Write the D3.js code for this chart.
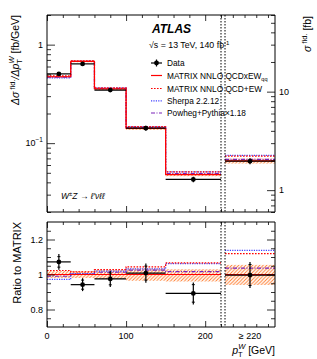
<!DOCTYPE html>
<html>
<head>
<meta charset="utf-8">
<script src="https://d3js.org/d3.v7.min.js"></script>
<style>
  body { margin: 0; background: #fff; }
  text { font-family: "Liberation Sans", Arial, sans-serif; fill: #000; }
  .frame { fill: none; stroke: #000; stroke-width: 1; }
  .axis path { display: none; }
  .axis line { stroke: #000; stroke-width: 0.8; }
</style>
</head>
<body>
<svg width="317" height="359"></svg>
<script>
// pT^W bins [GeV]; the 6th entry of every array is the >=220 GeV bin (in fb)
var binEdges = [0, 30, 60, 100, 150, 220];
var overflowLabel = "\u2265 220";

// upper panel: dsigma/dpT [fb/GeV], last value sigma [fb]
var dataTop    = [0.505, 0.638, 0.346, 0.142, 0.0428, 1.97];
var dataTopErr = [0.022, 0.024, 0.016, 0.008, 0.0027, 0.14];
var matrixTop  = [0.472, 0.675, 0.355, 0.141, 0.048, 1.98];
var qcdEwTop   = [0.483, 0.685, 0.365, 0.147, 0.051, 2.22];
var sherpaTop  = [0.459, 0.678, 0.362, 0.146, 0.051, 2.25];
var powhegTop  = [0.467, 0.677, 0.360, 0.145, 0.049, 2.05];

// lower panel: ratio to MATRIX NNLO QCDxEW
var dataRatio     = [1.072, 0.942, 0.975, 1.008, 0.892, 0.997];
var dataRatioErr  = [0.045, 0.037, 0.047, 0.055, 0.063, 0.074];
var dataRatioStat = [0.030, 0.026, 0.034, 0.040, 0.050, 0.060];
var matrixRatio   = [1, 1, 1, 1, 1, 1];
var qcdEwRatio    = [1.023, 1.015, 1.028, 1.044, 1.066, 1.119];
var sherpaRatio   = [0.972, 1.005, 1.019, 1.032, 1.062, 1.138];
var powhegRatio   = [0.990, 1.003, 1.013, 1.025, 1.017, 1.036];
var bandUp        = [0.020, 0.020, 0.025, 0.035, 0.030, 0.055];
var bandDown      = [0.020, 0.020, 0.025, 0.035, 0.040, 0.060];

var svg = d3.select("svg");

var L = 47, R = 275, mainR = 221, ovL = 225;
var topY0 = 15, topY1 = 212, botY0 = 222, botY1 = 327;

var x = d3.scaleLinear().domain([0, 220]).range([L, mainR]);
var xo = d3.scaleLinear().domain([220, 284]).range([ovL, R]);
var yTop = d3.scaleLog().domain([0.02, 2]).range([topY1, topY0]);
var yTopR = d3.scaleLog().domain([0.6, 60]).range([topY1, topY0]);
var yRat = d3.scaleLinear().domain([0.7, 1.3]).range([botY1, botY0]);

// hatch for MATRIX uncertainty
var defs = svg.append("defs");
defs.append("pattern").attr("id", "hatch")
    .attr("patternUnits", "userSpaceOnUse").attr("width", 3.5).attr("height", 3.5)
  .append("path").attr("d", "M-1,1 l2,-2 M0,3.5 l3.5,-3.5 M2.5,4.5 l2,-2")
    .attr("stroke", "#ff7a2a").attr("stroke-width", 0.9);
defs.append("clipPath").attr("id", "clipTop").append("rect")
    .attr("x", L).attr("y", topY0).attr("width", R - L).attr("height", topY1 - topY0);
defs.append("clipPath").attr("id", "clipBot").append("rect")
    .attr("x", L).attr("y", botY0).attr("width", R - L).attr("height", botY1 - botY0);

var styles = [
  { vals: "matrix", color: "#ff0000", dash: null, w: 1.2 },
  { vals: "qcdEw", color: "#ff0000", dash: "1.6,1.4", w: 1.2 },
  { vals: "sherpa", color: "#4040ff", dash: "1.2,1.2", w: 1.2 },
  { vals: "powheg", color: "#7a22b8", dash: "4,1.5,1,1.5", w: 1.2 }
];
var topSeries = { matrix: matrixTop, qcdEw: qcdEwTop, sherpa: sherpaTop, powheg: powhegTop };
var ratSeries = { matrix: matrixRatio, qcdEw: qcdEwRatio, sherpa: sherpaRatio, powheg: powhegRatio };

function stepPts(vals) {
  var pts = [];
  for (var i = 0; i < 5; i++) pts.push([binEdges[i], vals[i]]);
  pts.push([binEdges[5], vals[4]]);
  return pts;
}

function drawPanel(g, ys, ysOver, series, lo, hi) {
  // band around MATRIX
  var bandPts = stepPts(series.matrix).map(function (p, i) {
    var k = Math.min(i, 4);
    return { x: p[0], lo: lo(k), hi: hi(k) };
  });
  g.append("path")
    .attr("d", d3.area().curve(d3.curveStepAfter)
      .x(function (d) { return x(d.x); })
      .y0(function (d) { return ys(d.lo); })
      .y1(function (d) { return ys(d.hi); })(bandPts))
    .attr("fill", "url(#hatch)");
  g.append("rect")
    .attr("x", xo(220)).attr("width", xo(284) - xo(220))
    .attr("y", ysOver(hi(5))).attr("height", ysOver(lo(5)) - ysOver(hi(5)))
    .attr("fill", "url(#hatch)");

  styles.slice().reverse().forEach(function (s) {
    var vals = series[s.vals];
    g.append("path")
      .attr("d", d3.line().curve(d3.curveStepAfter)
        .x(function (d) { return x(d[0]); })
        .y(function (d) { return ys(d[1]); })(stepPts(vals)))
      .attr("fill", "none").attr("stroke", s.color)
      .attr("stroke-width", s.w).attr("stroke-dasharray", s.dash);
    g.append("line")
      .attr("x1", xo(220)).attr("x2", xo(284))
      .attr("y1", ysOver(vals[5])).attr("y2", ysOver(vals[5]))
      .attr("stroke", s.color).attr("stroke-width", s.w).attr("stroke-dasharray", s.dash);
  });
}

function drawData(g, ys, ysOver, vals, err, stat) {
  for (var i = 0; i < 6; i++) {
    var x0, x1;
    var sc = i < 5 ? ys : ysOver;
    if (i < 5) { x0 = x(binEdges[i]); x1 = x(binEdges[i + 1]); }
    else { x0 = xo(220); x1 = xo(284); }
    var cx = (x0 + x1) / 2;
    g.append("line").attr("x1", x0).attr("x2", x1)
      .attr("y1", sc(vals[i])).attr("y2", sc(vals[i]))
      .attr("stroke", "#000").attr("stroke-width", 1.2);
    g.append("line").attr("x1", cx).attr("x2", cx)
      .attr("y1", sc(vals[i] - err[i])).attr("y2", sc(vals[i] + err[i]))
      .attr("stroke", "#000").attr("stroke-width", 1.2);
    if (stat) {
      [vals[i] - stat[i], vals[i] + stat[i]].forEach(function (v) {
        g.append("line").attr("x1", cx - 1.5).attr("x2", cx + 1.5)
          .attr("y1", sc(v)).attr("y2", sc(v))
          .attr("stroke", "#000").attr("stroke-width", 1);
      });
    }
    g.append("circle").attr("cx", cx).attr("cy", sc(vals[i])).attr("r", 2.4).attr("fill", "#000");
  }
}

// ---- upper panel
var gTop = svg.append("g").attr("clip-path", "url(#clipTop)");
drawPanel(gTop, yTop, yTopR, topSeries,
  function (k) { return (k < 5 ? matrixTop[k] : matrixTop[5]) * (1 - bandDown[k]); },
  function (k) { return (k < 5 ? matrixTop[k] : matrixTop[5]) * (1 + bandUp[k]); });
drawData(gTop, yTop, yTopR, dataTop, dataTopErr, null);

// ---- ratio panel
var gBot = svg.append("g").attr("clip-path", "url(#clipBot)");
drawPanel(gBot, yRat, yRat, ratSeries,
  function (k) { return 1 - bandDown[k]; },
  function (k) { return 1 + bandUp[k]; });
drawData(gBot, yRat, yRat, dataRatio, dataRatioErr, dataRatioStat);

// ---- axes / ticks
function ticks(axis, tr, vals, size) {
  svg.append("g").attr("class", "axis").attr("transform", tr)
    .call(axis.tickValues(vals).tickSize(size).tickFormat(""));
}
var xMajor = [0, 100, 200];
var xMinor = d3.range(0, 221, 20).filter(function (v) { return v % 100 !== 0; });
var xoMinor = [230, 245, 260, 275];
[[topY0, d3.axisBottom], [topY1, d3.axisTop], [botY0, d3.axisBottom], [botY1, d3.axisTop]].forEach(function (a) {
  ticks(a[1](x), "translate(0," + a[0] + ")", xMajor, 6);
  ticks(a[1](x), "translate(0," + a[0] + ")", xMinor, 3);
  ticks(a[1](xo), "translate(0," + a[0] + ")", xoMinor, 3);
});

var logMinor = function (lo, hi) {
  var out = [];
  [0.01, 0.1, 1, 10].forEach(function (d) {
    for (var k = 2; k < 10; k++) { var v = +(d * k).toPrecision(3); if (v >= lo && v <= hi) out.push(v); }
  });
  return out;
};
ticks(d3.axisRight(yTop), "translate(" + L + ",0)", [0.1, 1], 8);
ticks(d3.axisRight(yTop), "translate(" + L + ",0)", logMinor(0.02, 2), 4);
ticks(d3.axisLeft(yTopR), "translate(" + R + ",0)", [1, 10], 8);
ticks(d3.axisLeft(yTopR), "translate(" + R + ",0)", logMinor(0.6, 60), 4);

var ratMajor = [0.8, 1, 1.2];
var ratMinor = d3.range(0.75, 1.3, 0.05).map(function (v) { return +v.toFixed(2); })
  .filter(function (v) { return ratMajor.indexOf(v) < 0; });
ticks(d3.axisRight(yRat), "translate(" + L + ",0)", ratMajor, 8);
ticks(d3.axisRight(yRat), "translate(" + L + ",0)", ratMinor, 4);
ticks(d3.axisLeft(yRat), "translate(" + R + ",0)", ratMajor, 8);
ticks(d3.axisLeft(yRat), "translate(" + R + ",0)", ratMinor, 4);

// frames
[[topY0, topY1], [botY0, botY1]].forEach(function (p) {
  svg.append("line").attr("class", "frame").attr("x1", L).attr("x2", R).attr("y1", p[0]).attr("y2", p[0]);
  svg.append("line").attr("class", "frame").attr("x1", L).attr("x2", R).attr("y1", p[1]).attr("y2", p[1]);
  svg.append("line").attr("class", "frame").attr("x1", L).attr("x2", L).attr("y1", p[0]).attr("y2", p[1]);
  svg.append("line").attr("class", "frame").attr("x1", R).attr("x2", R).attr("y1", p[0]).attr("y2", p[1]);
  [mainR, ovL].forEach(function (xx) {
    svg.append("line").attr("x1", xx).attr("x2", xx).attr("y1", p[0]).attr("y2", p[1])
      .attr("stroke", "#000").attr("stroke-width", 1).attr("stroke-dasharray", "1.5,1.5");
  });
});

// tick labels
var fs = 9;
xMajor.forEach(function (v) {
  svg.append("text").attr("x", x(v)).attr("y", 339).attr("text-anchor", "middle")
    .attr("font-size", fs).text(v);
});
svg.append("text").attr("x", (xo(220) + xo(284)) / 2).attr("y", 339).attr("text-anchor", "middle")
  .attr("font-size", fs).text(overflowLabel);
ratMajor.forEach(function (v) {
  svg.append("text").attr("x", 43).attr("y", yRat(v) + 3.2).attr("text-anchor", "end")
    .attr("font-size", fs).text(v);
});
svg.append("text").attr("x", 43).attr("y", yTop(1) + 3.2).attr("text-anchor", "end")
  .attr("font-size", fs).text("1");
var tm1 = svg.append("text").attr("x", 43).attr("y", yTop(0.1) + 3.2).attr("text-anchor", "end")
  .attr("font-size", fs);
tm1.append("tspan").text("10");
tm1.append("tspan").attr("font-size", 6.5).attr("dy", -4).text("\u22121");
svg.append("text").attr("x", 279).attr("y", yTopR(10) + 3.2).attr("font-size", fs).text("10");
svg.append("text").attr("x", 279).attr("y", yTopR(1) + 3.2).attr("font-size", fs).text("1");

// axis titles
var yl = svg.append("text").attr("transform", "translate(19,15) rotate(-90)")
  .attr("text-anchor", "end").attr("font-size", 10.5);
yl.append("tspan").attr("font-style", "italic").text("\u0394\u03c3");
yl.append("tspan").attr("font-size", 7.5).attr("dy", -4.5).text(" fid.");
yl.append("tspan").attr("dy", 4.5).attr("font-style", "italic").text("/\u0394p");
yl.append("tspan").attr("font-size", 7.5).attr("dy", 3).text("T");
yl.append("tspan").attr("font-size", 7.5).attr("dx", -4.5).attr("dy", -8).attr("font-style", "italic").text("W");
yl.append("tspan").attr("dy", 5).text(" [fb/GeV]");

var yr = svg.append("text").attr("transform", "translate(311,16) rotate(-90)")
  .attr("text-anchor", "end").attr("font-size", 10.5);
yr.append("tspan").attr("font-style", "italic").text("\u03c3");
yr.append("tspan").attr("font-size", 7.5).attr("dy", -4.5).text(" fid.");
yr.append("tspan").attr("dy", 4.5).text(" [fb]");

svg.append("text").attr("transform", "translate(21,222) rotate(-90)")
  .attr("text-anchor", "end").attr("font-size", 11).text("Ratio to MATRIX");

var xl = svg.append("text").attr("x", R).attr("y", 354).attr("text-anchor", "end").attr("font-size", 10.5);
xl.append("tspan").attr("font-style", "italic").text("p");
xl.append("tspan").attr("font-size", 7.5).attr("dy", 3).text("T");
xl.append("tspan").attr("font-size", 7.5).attr("dx", -4.5).attr("dy", -8).attr("font-style", "italic").text("W");
xl.append("tspan").attr("dy", 5).text(" [GeV]");

// process label
var pl = svg.append("text").attr("x", 61).attr("y", 199).attr("font-size", 8.5);
pl.append("tspan").attr("font-style", "italic").text("W");
pl.append("tspan").attr("font-size", 6).attr("dy", -3.5).text("\u00b1");
pl.append("tspan").attr("dy", 3.5).attr("font-style", "italic").text("Z");
pl.append("tspan").text(" \u2192 ");
pl.append("tspan").attr("font-style", "italic").text("\u2113\u2032\u03bd\u2113\u2113");

// ATLAS label
svg.append("text").attr("x", 152).attr("y", 33).attr("font-size", 12)
  .attr("font-weight", "bold").attr("font-style", "italic").text("ATLAS");
var sl = svg.append("text").attr("x", 149).attr("y", 48).attr("font-size", 8.8);
sl.append("tspan").text("\u221as = 13 TeV, 140 fb");
sl.append("tspan").attr("font-size", 6).attr("dy", -3.5).text("-1");

// legend
var legY = [63, 75.5, 88.5, 100.8, 113];
var lg = svg.append("g");
lg.append("line").attr("x1", 151).attr("x2", 162).attr("y1", legY[0]).attr("y2", legY[0])
  .attr("stroke", "#000").attr("stroke-width", 1.2);
lg.append("line").attr("x1", 156.5).attr("x2", 156.5).attr("y1", legY[0] - 3.5).attr("y2", legY[0] + 3.5)
  .attr("stroke", "#000").attr("stroke-width", 1.2);
lg.append("circle").attr("cx", 156.5).attr("cy", legY[0]).attr("r", 2.4).attr("fill", "#000");
lg.append("text").attr("x", 167).attr("y", legY[0] + 3).attr("font-size", 8.3).text("Data");
styles.forEach(function (s, i) {
  var yy = legY[i + 1];
  lg.append("line").attr("x1", 151).attr("x2", 162).attr("y1", yy).attr("y2", yy)
    .attr("stroke", s.color).attr("stroke-width", s.w).attr("stroke-dasharray", s.dash);
});
var lt1 = lg.append("text").attr("x", 167).attr("y", legY[1] + 3).attr("font-size", 8.3);
lt1.append("tspan").text("MATRIX NNLO QCDxEW");
lt1.append("tspan").attr("font-size", 5.5).attr("dy", 2.5).text("qq");
lg.append("text").attr("x", 167).attr("y", legY[2] + 3).attr("font-size", 8.3).text("MATRIX NNLO QCD+EW");
lg.append("text").attr("x", 167).attr("y", legY[3] + 3).attr("font-size", 8.3).text("Sherpa 2.2.12");
lg.append("text").attr("x", 167).attr("y", legY[4] + 3).attr("font-size", 8.3).text("Powheg+Pythia\u00d71.18");
</script>
</body>
</html>
